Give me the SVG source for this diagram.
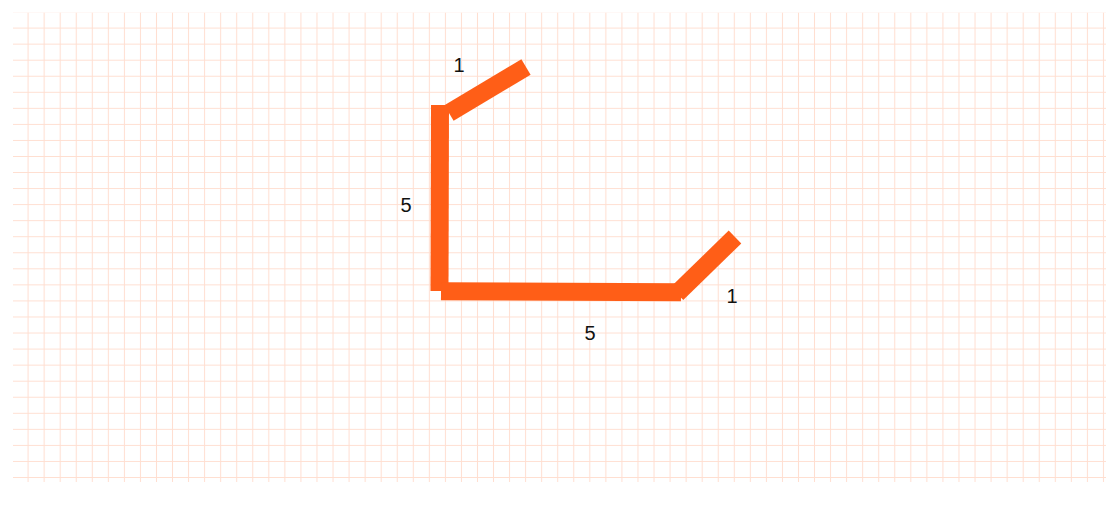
<svg xmlns="http://www.w3.org/2000/svg" width="1106" height="506" viewBox="0 0 1106 506">
  <defs>
    <pattern id="grid" patternUnits="userSpaceOnUse" x="4" y="4" width="16.05" height="16.05">
      <path d="M8.025 0V16.05M0 8.025H16.05" stroke="#ff6a2a" stroke-opacity="0.22" stroke-width="1" fill="none"/>
    </pattern>
  </defs>
  <style>
    .seg { stroke: #ff5e17; stroke-width: 18; stroke-linecap: butt; fill: none; }
    .lbl { font-family: "Liberation Sans", Arial, sans-serif; font-size: 20px; fill: #111111; text-anchor: middle; }
  </style>
  <rect x="0" y="0" width="1106" height="506" fill="#ffffff"/>
  <rect id="grid-bg" x="13" y="12.6" width="1093" height="469.4" fill="url(#grid)"/>
  <g id="connectors">
    <g id="seg-top"><line class="seg" x1="449" y1="113" x2="526" y2="67"/></g>
    <g id="seg-left"><line class="seg" x1="440" y1="105" x2="439.5" y2="291"/></g>
    <g id="seg-bottom"><line class="seg" x1="441" y1="291.3" x2="681" y2="292.3"/></g>
    <g id="seg-right"><line class="seg" x1="677" y1="293.5" x2="735" y2="237"/></g>
  </g>
  <g id="labels">
    <text class="lbl" x="459" y="72">1</text>
    <text class="lbl" x="406" y="212">5</text>
    <text class="lbl" x="590" y="340">5</text>
    <text class="lbl" x="732" y="303">1</text>
  </g>
</svg>
